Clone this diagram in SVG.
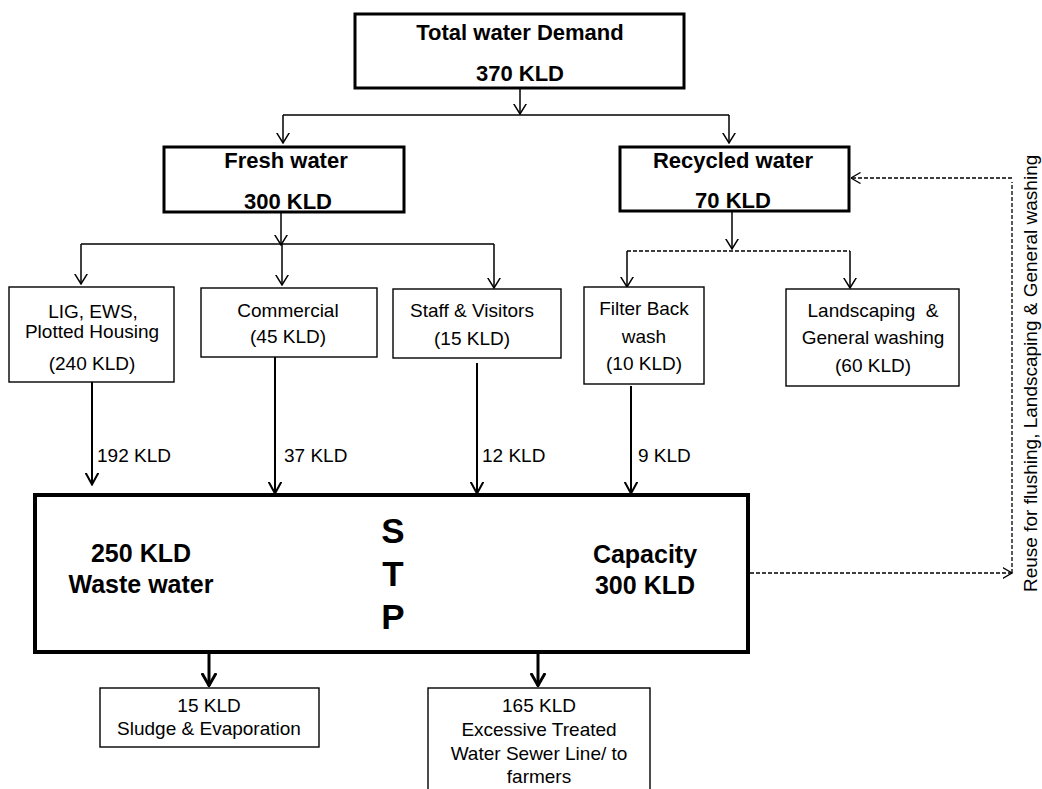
<svg xmlns="http://www.w3.org/2000/svg" width="1042" height="789" viewBox="0 0 1042 789">
<style>
  .bg{fill:#fff}
  .thin{fill:#fff;stroke:#000;stroke-width:1.4}
  .thick{fill:#fff;stroke:#000;stroke-width:3}
  .stp{fill:#fff;stroke:#000;stroke-width:4}
  .t{font-family:"Liberation Sans",Arial,sans-serif;font-size:19px;fill:#000;text-anchor:middle}
  .h{font-family:"Liberation Sans",Arial,sans-serif;font-size:22px;font-weight:bold;fill:#000;text-anchor:middle}
  .s{font-family:"Liberation Sans",Arial,sans-serif;font-size:25px;font-weight:bold;fill:#000;text-anchor:middle}
  .big{font-family:"Liberation Sans",Arial,sans-serif;font-size:35px;font-weight:bold;fill:#000;text-anchor:middle}
  .lbl{font-family:"Liberation Sans",Arial,sans-serif;font-size:19px;fill:#000}
  .c1{fill:none;stroke:#000;stroke-width:1.5}
  .c2{fill:none;stroke:#000;stroke-width:2}
  .c3{fill:none;stroke:#000;stroke-width:3}
  .d{fill:none;stroke:#000;stroke-width:1.3;stroke-dasharray:4 2}
</style>
<defs>
  <marker id="a1" markerUnits="userSpaceOnUse" viewBox="0 0 11 14" markerWidth="11" markerHeight="14" refX="10.5" refY="7" orient="auto">
    <path d="M0,0.5 L10.5,7 L0,13.5" fill="none" stroke="#000" stroke-width="1.5"/>
  </marker>
  <marker id="a2" markerUnits="userSpaceOnUse" viewBox="0 0 13 14" markerWidth="13" markerHeight="14" refX="12.5" refY="7" orient="auto">
    <path d="M0,0.5 L12,7 L0,13.5" fill="none" stroke="#000" stroke-width="2"/>
  </marker>
  <marker id="a3" markerUnits="userSpaceOnUse" viewBox="0 0 14 16" markerWidth="14" markerHeight="16" refX="13" refY="8" orient="auto">
    <path d="M0,0.8 L12.5,8 L0,15.2" fill="none" stroke="#000" stroke-width="3"/>
  </marker>
  <marker id="a4" markerUnits="userSpaceOnUse" viewBox="0 0 10 12" markerWidth="10" markerHeight="12" refX="9.5" refY="6" orient="auto">
    <path d="M0,0.5 L9.5,6 L0,11.5" fill="none" stroke="#000" stroke-width="1.3" stroke-dasharray="none"/>
  </marker>
</defs>
<rect class="bg" x="0" y="0" width="1042" height="789"/>

<g id="connectors">
  <path class="c1" d="M520,88 V114" marker-end="url(#a1)"/>
  <path class="c1" d="M283,115 H729"/>
  <path class="c1" d="M283,115 V143" marker-end="url(#a1)"/>
  <path class="c1" d="M729,115 V143" marker-end="url(#a1)"/>
  <path class="c1" d="M281,212 V245" marker-end="url(#a1)"/>
  <path class="c1" d="M81,244 H494"/>
  <path class="c1" d="M81,244 V284" marker-end="url(#a1)"/>
  <path class="c1" d="M282,244 V285" marker-end="url(#a1)"/>
  <path class="c1" d="M494,244 V288" marker-end="url(#a1)"/>
  <path class="c1" d="M732,211 V249" marker-end="url(#a1)"/>
  <path class="d" d="M627,251 H850"/>
  <path class="c1" d="M627,251 V287" marker-end="url(#a1)"/>
  <path class="c1" d="M850,251 V288" marker-end="url(#a1)"/>
  <path class="c2" d="M92,382 V485" marker-end="url(#a2)"/>
  <path class="c2" d="M275,357 V494" marker-end="url(#a2)"/>
  <path class="c2" d="M477,363 V494" marker-end="url(#a2)"/>
  <path class="c2" d="M631,386 V494" marker-end="url(#a2)"/>
  <path class="c3" d="M209,652 V686" marker-end="url(#a3)"/>
  <path class="c3" d="M538,652 V686" marker-end="url(#a3)"/>
  <path class="d" d="M750,573 H1012" marker-end="url(#a4)"/>
  <path class="d" d="M1012,573 V182"/>
  <path class="d" d="M1012,178 H851" marker-end="url(#a4)"/>
  <text class="lbl" x="97" y="462">192 KLD</text>
  <text class="lbl" x="284" y="462">37 KLD</text>
  <text class="lbl" x="482" y="462">12 KLD</text>
  <text class="lbl" x="638" y="462">9 KLD</text>
  <text class="lbl" transform="translate(1037,592) rotate(-90)" font-size="18">Reuse for flushing, Landscaping &amp; General washing</text>
</g>

<g id="total">
  <rect class="thick" x="355" y="14" width="329" height="74"/>
  <text class="h" x="520" y="40">Total water Demand</text>
  <text class="h" x="520" y="81">370 KLD</text>
</g>
<g id="fresh">
  <rect class="thick" x="164" y="147" width="240" height="65"/>
  <text class="h" x="286" y="168">Fresh water</text>
  <text class="h" x="288" y="209">300 KLD</text>
</g>
<g id="recycled">
  <rect class="thick" x="620" y="147" width="229" height="64"/>
  <text class="h" x="733" y="168">Recycled water</text>
  <text class="h" x="733" y="208">70 KLD</text>
</g>
<g id="lig">
  <rect class="thin" x="9" y="287" width="165" height="95"/>
  <text class="t" x="93" y="318">LIG, EWS,</text>
  <text class="t" x="92" y="338">Plotted Housing</text>
  <text class="t" x="92" y="370">(240 KLD)</text>
</g>
<g id="commercial">
  <rect class="thin" x="201" y="288" width="176" height="69"/>
  <text class="t" x="288" y="317">Commercial</text>
  <text class="t" x="288" y="343">(45 KLD)</text>
</g>
<g id="staff">
  <rect class="thin" x="393" y="289" width="168" height="69"/>
  <text class="t" x="472" y="317">Staff &amp; Visitors</text>
  <text class="t" x="472" y="345">(15 KLD)</text>
</g>
<g id="filter">
  <rect class="thin" x="584" y="287" width="120" height="97"/>
  <text class="t" x="644" y="315">Filter Back</text>
  <text class="t" x="644" y="343">wash</text>
  <text class="t" x="644" y="370">(10 KLD)</text>
</g>
<g id="landscaping">
  <rect class="thin" x="786" y="289" width="173" height="97"/>
  <text class="t" x="873" y="317" style="white-space:pre">Landscaping  &amp;</text>
  <text class="t" x="873" y="344">General washing</text>
  <text class="t" x="873" y="372">(60 KLD)</text>
</g>
<g id="stp">
  <rect class="stp" x="35" y="495" width="713" height="157"/>
  <text class="s" x="141" y="562">250 KLD</text>
  <text class="s" x="141" y="593">Waste water</text>
  <text class="big" x="393" y="543">S</text>
  <text class="big" x="393" y="586">T</text>
  <text class="big" x="393" y="629">P</text>
  <text class="s" x="645" y="563">Capacity</text>
  <text class="s" x="645" y="594">300 KLD</text>
</g>
<g id="sludge">
  <rect class="thin" x="100" y="688" width="219" height="59"/>
  <text class="t" x="209" y="712">15 KLD</text>
  <text class="t" x="209" y="735">Sludge &amp; Evaporation</text>
</g>
<g id="excess">
  <rect class="thin" x="428" y="688" width="222" height="110"/>
  <text class="t" x="539" y="712">165 KLD</text>
  <text class="t" x="539" y="736">Excessive Treated</text>
  <text class="t" x="539" y="760">Water Sewer Line/ to</text>
  <text class="t" x="539" y="783">farmers</text>
</g>
</svg>
